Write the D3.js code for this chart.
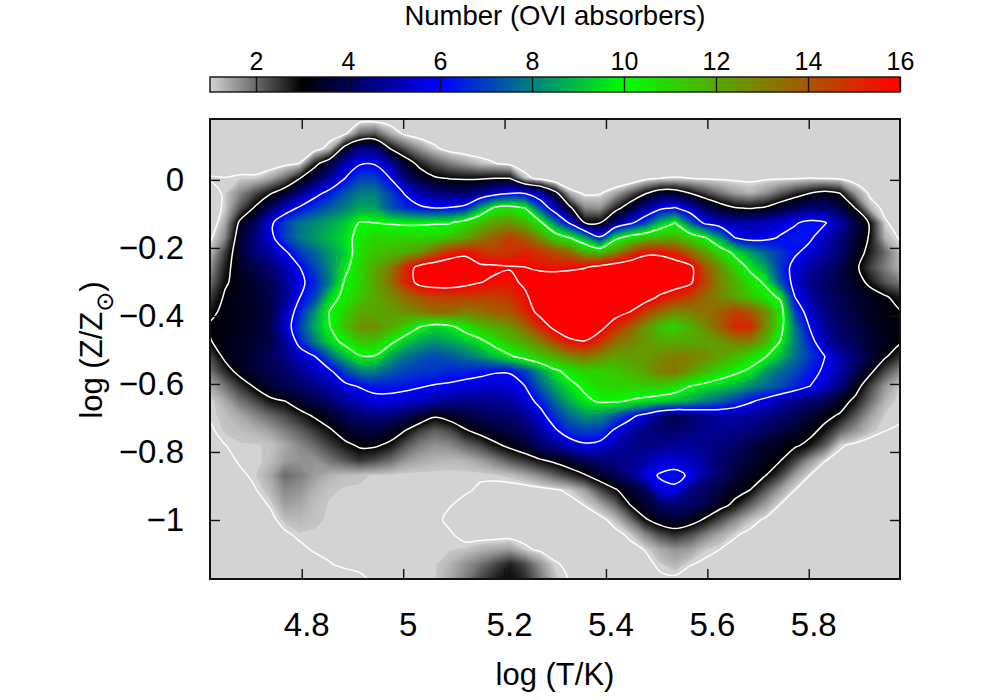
<!DOCTYPE html>
<html>
<head>
<meta charset="utf-8">
<script src="https://cdn.jsdelivr.net/npm/d3@7"></script>
<style>
html,body{margin:0;padding:0;background:#fff}
svg{display:block}
text{font-family:"Liberation Sans",Arial,sans-serif;fill:#000}
</style>
</head>
<body>
<svg id="chart" width="1000" height="700"></svg>
<script>
const xTicks = [4.8, 5, 5.2, 5.4, 5.6, 5.8];
const yTicks = [0, -0.2, -0.4, -0.6, -0.8, -1];
const cbTicks = [2, 4, 6, 8, 10, 12, 14, 16];
const paletteStops = [1, 3, 6, 10, 16];
const paletteColors = ["#d3d3d3", "#000000", "#0000ff", "#00ff00", "#ff0000"];
const contourLevels = [1, 3, 6, 10, 16];
const logTRange = [4.619, 5.98];
const logZRange = [-1.1735, 0.179];
const xTitle = "log (T/K)";
const barTitle = "Number (OVI absorbers)";

// Number of absorbers per sample: rows run from high to low log Z, columns from low to high log T
const counts = [
[.7,.7,.7,.7,.7,.7,.7,.7,.7,.7,.7,.7,.7,.7,.7,.7,.7,.7,.7,.7,.7,.7,.7,.7,.7,.7,.7,.7,.7,.7,.7,.7,.7,.7,.7,.7,.7,.7,.7,.7,.7,.7,.7,.7,.7,.7,.7],
[.7,.7,.7,.7,.7,.7,.7,.7,.7,.9,2,2.2,1.4,.9,.7,.7,.7,.7,.7,.7,.7,.7,.7,.7,.7,.7,.7,.7,.7,.7,.7,.7,.7,.7,.7,.7,.7,.7,.7,.7,.7,.7,.7,.7,.7,.7,.7],
[.7,.7,.7,.7,.7,.7,.7,.7,1.3,3.5,4.5,4.4,3,2.2,1.6,1.1,.8,.7,.7,.7,.7,.7,.7,.7,.7,.7,.7,.7,.7,.7,.7,.7,.7,.7,.7,.7,.7,.7,.7,.7,.7,.7,.7,.7,.7,.7,.7],
[.7,.7,.7,.7,.7,.85,1.02,2.7,3.8,5,5.9,5.9,4.9,3.6,2.7,2.2,1.8,1.5,1.2,1.02,.8,.7,.7,.7,.7,.7,.7,.7,.7,.7,.7,.7,.7,.7,.7,.7,.7,.7,.7,.7,.7,.7,.7,.7,.7,.7,.7],
[1.05,1.02,1.1,1.1,1.4,2,3,3.9,4.8,6,7,7,6,4.4,3.6,3.1,2.95,2.9,2.9,3,3,1.2,.8,.2,.2,.7,.7,.3,.4,.8,1,1.03,1,.95,.92,.9,.9,.93,.95,.97,1.01,.97,.9,.7,.7,.7,.7],
[.7,1.1,1.7,2.3,2.9,3.6,4.5,5.6,6.4,7.3,8,8,7,5.9,5,4.5,4.3,4.3,4.7,5.4,5.9,5.9,5,3.4,1.3,.9,.95,1.4,2.1,2.9,3.6,3.6,3,2.4,1.9,1.5,1.3,1.6,2.1,2.6,3,3.3,3,1.6,.9,.7,.7],
[.7,1.1,2.2,3.1,4.2,5.3,6.2,6.9,7.5,8,8.6,8.5,7.3,6.7,6.2,6,6.1,6.4,8.5,10.3,10.6,10,7.2,5.2,3.2,1.7,1.6,2.6,3.6,4.7,5.7,6.1,5.2,4.2,3.5,3.05,2.95,3.1,3.6,4,4.4,4.4,3.9,3,1.25,.87,.7],
[.6,1.4,3.2,4.1,5.7,7,7.8,8.2,8.6,9.2,10.1,10,9.9,9.8,9.8,9.9,9.9,10.7,11.6,12.2,12.5,11.8,10.4,7.9,5.8,3,3,4.4,5.7,7,8.9,10,7.6,5.7,5.2,5,5,5.2,5.5,5.9,6.3,6.1,5,3.9,2.9,1.06,.8],
[.9,1.7,3.6,4.5,5.6,7,7.9,8.4,8.9,9.5,10.5,11,11,11,11,11,11.5,12,13,13.8,14.5,13.8,12.5,11,10,8.5,6.2,9.5,10.7,11.3,11.7,11.8,11,10.1,8.3,6,5.5,5.7,6.1,6.4,6.2,5.2,4.5,3.7,2.9,1.3,.95],
[1.2,2.4,3.6,4.4,4.9,5.8,6.9,7.6,8.4,9.2,10.8,11.4,11.7,12,12.5,13.8,15,15.6,15,14.5,14.8,15.2,14.8,14.2,13.5,12,11.5,12.7,14.2,15.6,15.6,15,13.6,12.3,11,9.6,8.5,7.6,6.9,6.2,5.5,4.9,4.3,3.5,2.7,2,1.2],
[1.6,2.7,3.5,3.9,4.3,5.1,6,7.1,8.2,9.6,11,12,13,15,16.6,17.2,17.4,17.2,16.3,16.3,16.1,16.03,15.6,15.4,15.6,15.9,16.6,17.2,17.5,17.5,17.5,17,16.5,14,12.5,11,9.7,8.6,6.9,5.5,4.9,4.4,4,3.2,2.4,1.8,1.3],
[1.9,2.9,3.3,3.6,4,4.7,5.7,6.6,8,10.2,11,12.2,13.3,15,16.6,16.9,16.9,16.5,16.05,15.7,15.6,16.3,17.2,17.5,17.5,17.5,17.5,17.5,17.5,17.5,17.5,16.9,16.3,14.4,12.8,11.9,10.7,9.8,7.3,5.5,4.6,4.2,3.8,3.4,2.8,2.2,1.8],
[2.4,3.1,3.3,3.5,3.9,4.6,6,7,9.3,10.5,11.3,12,12.7,13.5,14,14.4,14.5,14.5,14.5,14.5,14.8,15.7,17,17.5,17.5,17.5,17.5,17.5,17.5,16.9,15.7,15,14.5,13.6,12.8,12.1,11.4,10.6,9.8,6,4.9,4.3,3.9,3.6,3.4,3.1,2.7],
[2.8,3.2,3.3,3.5,3.8,5.1,6.6,8.3,10.1,11.1,12,12.1,12.3,12.6,13,13.5,13.5,13,13.3,13.8,14,15.1,16.5,17.5,17.5,17.5,17.4,16.8,16,14.5,13.5,12.8,12.9,13.3,13.8,14.5,14,12.7,10.8,7,5.3,4.5,4,3.7,3.4,3.2,3.05],
[3.1,3.2,3.3,3.5,3.9,5.3,7,8.7,10,11.5,12.6,12.6,12,11.2,10,9.4,9.7,10.6,11.5,12,12.5,13.5,15,16.5,17.5,17.5,16.6,15,13.9,12.5,11.4,11,11.8,12.7,13.8,15.1,15.1,12.9,10.6,7.8,5.9,4.8,4.2,3.8,3.5,3.3,3.1],
[2.95,3.3,3.4,3.6,3.8,4.7,6.5,8,9.4,10.4,11.3,11.4,10.4,9.2,8.6,8.3,8.6,9,9.6,10.6,11.5,12.2,13,14.4,15.6,15.9,14.8,13.5,12.9,12.4,12,12,12,12.2,12.5,13,13,11.9,10,8,6.5,5,4.4,4,3.6,3.3,3.1],
[2.3,3.2,3.4,3.7,4,4.6,5.3,6,7.5,8.9,9.9,9.9,8.6,7.8,7.4,7.2,7.4,7.8,8.3,9,9.8,10.6,11.4,12,12.8,13.2,12.8,12.2,12.3,12.4,12.8,13,13,12.7,12.2,11.6,10.9,10.1,9,7.8,6.9,6,5,4.4,3.7,3.1,2.5],
[1.9,2.6,3.3,3.6,3.9,4.2,4.7,5.2,5.8,7,8,8,7.5,7.1,6.9,6.8,6.6,6.5,6.3,6.1,6.1,7,8.3,9.7,10.5,11,11,11.3,11.7,12.2,13,13.3,12.4,11.6,10.9,10.3,9.7,8.5,7.7,7.2,6.4,5.8,5,4,3.2,2.3,1.7],
[1.4,1.9,2.5,3.1,3.6,3.9,4.2,4.6,5,5.7,6.1,6.4,6.4,6.3,6.1,5.9,5.8,5.6,5.5,5.4,5.5,6,7.5,8.6,9.6,10.3,10.9,11,11.1,11.2,11.2,10.8,10,9.6,9.2,8.8,8.2,7.7,7.2,6.6,6,5.3,4.5,3.4,2.4,1.6,1.1],
[1.02,1.4,1.9,2.3,2.8,3,3.5,3.9,4.3,4.8,5.2,5.6,5.6,5.4,5.2,4.9,4.7,4.6,4.6,4.7,4.9,5.4,6.4,7.7,8.8,9.7,10.2,10.2,9.9,9.6,9.3,9,8.6,8,7.5,6.9,6.2,5.6,5,4.6,4.3,4,3.4,2.8,2,1.3,1.02],
[1.05,1.2,1.4,1.7,2,2.3,2.7,3.1,3.5,4,4.3,4.5,4.4,4.1,3.6,3.1,3.4,3.7,4,4.2,4.3,4.7,5.5,6.8,7.7,8.3,8.2,7.4,6.4,5.5,4.4,3.9,4.2,4.6,4.9,4.9,4.8,4.6,4.3,4,3.6,3.2,2.9,2.2,1.5,1.1,1.1],
[.93,1.15,1.2,1.3,1.5,1.8,2.1,2.5,2.9,3.4,3.7,3.8,3.5,3,2.4,2.1,2.3,2.9,3.3,3.6,3.8,4.2,4.9,5.8,6.8,7,6.9,5.8,5,4.6,4.3,4.2,4.4,4.7,4.7,4.6,4.4,4.1,3.8,3.5,3.2,2.8,2.1,1.6,1.2,1.01,.91],
[.75,.99,1.1,1.1,1.15,1.4,1.7,2,2.4,2.8,3.1,3.1,2.8,2.2,1.8,1.6,1.7,2,2.3,2.8,3.2,3.6,4.2,4.7,5.3,5.8,5.6,5,4.6,4.5,4.6,4.8,4.8,4.6,4.4,4.2,3.8,3.5,3.3,3.1,2.8,2.1,1.07,.88,.78,.7,.7],
[.7,.83,1.07,1.05,1.2,1.5,1.6,1.6,1.9,2.2,2.5,2.3,2,1.6,1.4,1.3,1.25,1.3,1.5,1.8,2.2,2.5,2.9,3.2,3.6,4,4.3,4.5,4.7,5,5.4,5.5,5.2,4.8,4.3,3.9,3.6,3.3,3.05,2.4,1.6,1.02,.84,.7,.7,.7,.7],
[.7,.7,.9,1.1,1.4,2,1.8,1.5,1.3,1.2,1.15,1.1,1.1,1.05,1.05,1.05,1.05,1.05,1.05,1.1,1.2,1.4,1.7,2.1,2.5,2.95,3.5,4,4.5,5.6,6.1,6.3,5.85,4.9,4.2,3.7,3.3,3.05,2.4,1.5,1,.78,.7,.7,.7,.7,.7],
[.7,.7,.73,.97,1.25,1.7,1.6,1.3,1.15,1.1,1.1,1.05,1.05,1.05,1.05,1.05,1.05,1.05,.95,.85,.8,.8,.85,.95,1.1,1.5,2.3,2.9,3.5,4,5.7,5.8,4.5,4.1,3.7,3.3,3,2.2,1.5,1,.79,.7,.7,.7,.7,.7,.7],
[.7,.7,.7,.8,1.04,1.5,1.4,1.2,1.1,1.05,1.05,1.05,1.05,1.05,1.05,1.05,1.02,.9,.8,.8,.8,.8,.8,.8,.85,1.02,1.4,2,3,3.6,4.1,4.4,4.2,3.8,3.3,2.8,2.1,1.5,.99,.81,.7,.7,.7,.7,.7,.7,.7],
[.7,.7,.7,.7,.86,1.2,1.25,1.15,1.1,1.1,1.1,1.1,1.1,1.1,1.1,1.1,.9,.8,.8,.8,.8,.8,.8,.8,.8,.8,.85,1.2,1.9,2.9,3.4,3.6,3.4,2.9,2.3,1.7,1.2,.94,.75,.7,.7,.7,.7,.7,.7,.7,.7],
[.7,.7,.7,.7,.7,.92,1.1,1.1,1.1,1.1,1.1,1.1,1.1,1.1,1.1,1.1,1.05,.85,.8,.8,.8,.8,.8,.8,.8,.8,.8,.85,1.1,1.7,2.3,2.6,2.3,1.8,1.4,1.06,.88,.7,.7,.7,.7,.7,.7,.7,.7,.7,.7],
[.7,.7,.7,.7,.7,.72,.89,1.06,1.1,1.1,1.1,1.1,1.1,1.1,1.1,1.1,1.1,1.15,1.3,1.4,1.5,1.1,.9,.8,.8,.8,.8,.8,.85,1.02,1.4,1.6,1.5,1.15,1,.82,.72,.7,.7,.7,.7,.7,.7,.7,.7,.7,.7],
[.7,.7,.7,.7,.7,.7,.7,.81,.98,1.1,1.1,1.1,1.1,1.1,1.1,1.1,1.3,1.6,1.9,2.3,2.7,2.3,1.6,1.05,.9,.8,.8,.8,.8,.85,1.1,1.3,1.04,.9,.76,.7,.7,.7,.7,.7,.7,.7,.7,.7,.7,.7,.7],
[.7,.7,.7,.7,.7,.7,.7,.7,.7,.75,.93,1.07,1.05,1.05,1.1,1.1,1.4,1.8,2.3,2.7,2.9,2.6,1.9,1.2,.95,.8,.8,.8,.8,.8,.9,.9,.7,.7,.7,.7,.7,.7,.7,.7,.7,.7,.7,.7,.7,.7,.7]
];

const frame = {left: 210, right: 900, top: 119, bottom: 579};
const bar = {top: 77, bottom: 92};

const svg = d3.select("#chart");
const x = d3.scaleLinear().domain(logTRange).range([frame.left, frame.right]);
const y = d3.scaleLinear().domain(logZRange).range([frame.bottom, frame.top]);
const colour = d3.scaleLinear().domain(paletteStops).range(paletteColors).clamp(true);
const cb = d3.scaleLinear().domain([1, 16]).range([frame.left, frame.right]);

const rows = counts.length, cols = counts[0].length;
const flat = counts.flat();
// d3.contours places sample k at grid coordinate k + 0.5
const gx = g => x(logTRange[0] + (g - 0.5) * (logTRange[1] - logTRange[0]) / (cols - 1));
const gy = g => y(logZRange[1] - (g - 0.5) * (logZRange[1] - logZRange[0]) / (rows - 1));
const contourGen = d3.contours().size([cols, rows]).smooth(true);

const defs = svg.append("defs");
defs.append("clipPath").attr("id", "plotClip").append("rect")
  .attr("x", frame.left).attr("y", frame.top)
  .attr("width", frame.right - frame.left).attr("height", frame.bottom - frame.top);

const plot = svg.append("g").attr("clip-path", "url(#plotClip)");
plot.append("rect")
  .attr("x", frame.left).attr("y", frame.top)
  .attr("width", frame.right - frame.left).attr("height", frame.bottom - frame.top)
  .attr("fill", colour(1));

const bandPath = d3.geoPath(d3.geoTransform({
  point(a, b) { this.stream.point(gx(a), gy(b)); }
}));
const bandLevels = d3.range(1.12, 16.001, 0.04);
plot.selectAll("path.band").data(bandLevels).join("path")
  .attr("class", "band")
  .attr("d", t => bandPath(contourGen.contour(flat, t)))
  .attr("fill", t => colour(t + 0.02));

const ringLine = d3.line().x(p => gx(p[0])).y(p => gy(p[1])).curve(d3.curveCatmullRomClosed.alpha(0.5));
contourLevels.forEach(level => {
  const geom = contourGen.contour(flat, level);
  const rings = geom.coordinates.flat().map(r => r.slice(0, -1));
  plot.selectAll(null).data(rings).join("path")
    .attr("d", ringLine)
    .attr("fill", "none")
    .attr("stroke", "#fff")
    .attr("stroke-width", 1.5);
});

// frame
svg.append("rect")
  .attr("x", frame.left).attr("y", frame.top)
  .attr("width", frame.right - frame.left).attr("height", frame.bottom - frame.top)
  .attr("fill", "none").attr("stroke", "#111").attr("stroke-width", 2);

const tickFmt = d3.format("~g");
function styleAxis(g) {
  g.select(".domain").remove();
  g.selectAll(".tick line").attr("stroke", "#111").attr("stroke-width", 1.4);
  g.selectAll("text").attr("font-family", '"Liberation Sans"').attr("fill", "#000");
}

svg.append("g").attr("transform", `translate(0,${frame.bottom})`)
  .call(d3.axisBottom(x).tickValues(xTicks).tickSizeInner(-10).tickSizeOuter(0).tickPadding(34).tickFormat(tickFmt))
  .call(styleAxis)
  .call(g => g.selectAll("text").attr("font-size", 33).attr("dx", 4.5));
svg.append("g").attr("transform", `translate(0,${frame.top})`)
  .call(d3.axisTop(x).tickValues(xTicks).tickSizeInner(-10).tickSizeOuter(0).tickFormat(""))
  .call(styleAxis);
svg.append("g").attr("transform", `translate(${frame.left},0)`)
  .call(d3.axisLeft(y).tickValues(yTicks).tickSizeInner(-10).tickSizeOuter(0).tickPadding(26).tickFormat(tickFmt))
  .call(styleAxis)
  .call(g => g.selectAll("text").attr("font-size", 33));
svg.append("g").attr("transform", `translate(${frame.right},0)`)
  .call(d3.axisRight(y).tickValues(yTicks).tickSizeInner(-10).tickSizeOuter(0).tickFormat(""))
  .call(styleAxis);

svg.append("text").attr("x", 555).attr("y", 685).attr("text-anchor", "middle")
  .attr("font-size", 31).text(xTitle);
const yt = svg.append("text").attr("transform", "translate(102,350) rotate(-90)")
  .attr("text-anchor", "middle").attr("font-size", 31);
yt.append("tspan").text("log (Z/Z");
yt.append("tspan").attr("dy", 11).attr("font-size", 24).attr("font-family", '"DejaVu Sans"').text("\u2299");
yt.append("tspan").attr("dy", -11).text(")");

// colour bar
const barG = svg.append("g");
barG.selectAll("rect").data(d3.range(frame.left, frame.right)).join("rect")
  .attr("x", d => d).attr("y", bar.top).attr("width", 1.2).attr("height", bar.bottom - bar.top)
  .attr("fill", d => colour(cb.invert(d + 0.5)));
svg.append("rect").attr("x", frame.left).attr("y", bar.top)
  .attr("width", frame.right - frame.left).attr("height", bar.bottom - bar.top)
  .attr("fill", "none").attr("stroke", "#111").attr("stroke-width", 1.4);
svg.append("g").attr("transform", `translate(0,${bar.top})`)
  .call(d3.axisTop(cb).tickValues(cbTicks).tickSizeInner(-(bar.bottom - bar.top)).tickSizeOuter(0).tickPadding(7).tickFormat(tickFmt))
  .call(styleAxis)
  .call(g => g.selectAll("text").attr("font-size", 25));
svg.append("text").attr("x", 555).attr("y", 25).attr("text-anchor", "middle")
  .attr("font-size", 27.5).text(barTitle);
</script>
</body>
</html>
